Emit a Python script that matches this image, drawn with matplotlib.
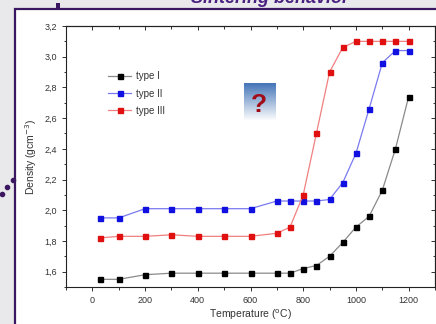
import numpy as np
import matplotlib
matplotlib.use("Agg")
import matplotlib.pyplot as plt
from matplotlib.patches import Rectangle
from matplotlib.lines import Line2D
from matplotlib.ticker import MultipleLocator, FuncFormatter

temps = [30, 100, 200, 300, 400, 500, 600, 700, 750, 800, 850, 900, 950, 1000, 1050, 1100, 1150, 1200]
type1 = [1.55, 1.55, 1.58, 1.59, 1.59, 1.59, 1.59, 1.59, 1.59, 1.62, 1.64, 1.70, 1.79, 1.89, 1.96, 2.13, 2.40, 2.74]
type2 = [1.95, 1.95, 2.01, 2.01, 2.01, 2.01, 2.01, 2.06, 2.06, 2.06, 2.06, 2.07, 2.18, 2.37, 2.66, 2.96, 3.04, 3.04]
type3 = [1.82, 1.83, 1.83, 1.84, 1.83, 1.83, 1.83, 1.85, 1.89, 2.10, 2.50, 2.90, 3.06, 3.10, 3.10, 3.10, 3.10, 3.10]

series = [("type I", type1, "#000000", "#8a8a8a"),
          ("type II", type2, "#1010e0", "#7a7af0"),
          ("type III", type3, "#e01010", "#f08080")]

plt.rcParams['font.family'] = ['Liberation Sans', 'DejaVu Sans']
W, H = 436, 324
purple = "#3a1760"

fig = plt.figure(figsize=(W / 100, H / 100), dpi=100)
fig.patch.set_facecolor("#e9e9ec")

# slide panel
fig.add_artist(Rectangle((14.5 / W, -0.1), 1.2, 1 - 9 / H + 0.1, transform=fig.transFigure,
                         facecolor="white", edgecolor=purple, linewidth=1.6, zorder=0))
fig.text(270 / W, 1 - 3 / H, "Sintering behavior", color="#4a2080", fontsize=13,
         fontweight="bold", style="italic", ha="center", va="baseline")
fig.add_artist(Rectangle((56 / W, 1 - 9 / H), 4 / W, 6 / H, transform=fig.transFigure,
                         facecolor=purple, edgecolor="none"))
fig.add_artist(Line2D([2 / W, 7 / W, 12.5 / W], [1 - 194 / H, 1 - 187 / H, 1 - 180 / H],
                      transform=fig.transFigure, linestyle="none", marker="o", markersize=3,
                      color=purple))

ax = fig.add_axes([66 / W, 1 - 287 / H, 369 / W, 261 / H])
for label, y, mc, lc in series:
    ax.plot(temps, y, color=lc, linewidth=0.9, marker="s", markersize=3.6,
            markerfacecolor=mc, markeredgecolor=mc, label=label)

ax.set_xlim(-100, 1300)
ax.set_ylim(1.5, 3.2)


def set_ticks(axis):
    axis.set_major_locator(MultipleLocator(200 if axis.axis_name == "x" else 0.2))
    axis.set_minor_locator(MultipleLocator(100 if axis.axis_name == "x" else 0.1))


set_ticks(ax.xaxis)
set_ticks(ax.yaxis)
ax.yaxis.set_major_formatter(FuncFormatter(lambda v, p: ("%.1f" % v).replace(".", ",")))
ax.tick_params(which="both", direction="out", labelsize=6.5, colors="#333333", width=0.7)
ax.tick_params(which="major", length=3)
ax.tick_params(which="minor", length=1.8)

# top and right ticks point inward
top = ax.secondary_xaxis("top")
right = ax.secondary_yaxis("right")
set_ticks(top.xaxis)
set_ticks(right.yaxis)
for sec in (top, right):
    sec.tick_params(which="both", direction="in", labelsize=0, colors="#333333", width=0.7)
    sec.tick_params(which="major", length=3)
    sec.tick_params(which="minor", length=1.8)
top.set_xticklabels([])
right.set_yticklabels([])
for s in list(ax.spines.values()) + [top.spines["top"], right.spines["right"]]:
    s.set_linewidth(0.8)
    s.set_color("#222222")

ax.set_xlabel("Temperature ($^{\\rm o}$C)", fontsize=7.5, color="#333333", labelpad=2)
ax.set_ylabel("Density (gcm$^{-3}$)", fontsize=7.5, color="#333333", labelpad=4)

ax.legend(loc="upper left", bbox_to_anchor=(0.09, 0.86), frameon=False, fontsize=7,
          handlelength=2.4, labelspacing=0.75, handletextpad=0.5, labelcolor="#333333")

# question mark icon
iax = fig.add_axes([244 / W, 1 - 121 / H, 32 / W, 38 / H])
grad = np.linspace(0, 1, 64).reshape(-1, 1)
c0 = np.array([0.27, 0.46, 0.72])
rgb = c0 + (np.array([1.0, 1.0, 1.0]) - c0) * grad[..., None]
iax.imshow(rgb, aspect="auto", extent=[0, 1, 0, 1])
iax.text(0.47, 0.42, "?", color="#a00c18", fontsize=19, fontweight="bold", ha="center", va="center")
iax.set_axis_off()

fig.savefig("out.png", dpi=100)
